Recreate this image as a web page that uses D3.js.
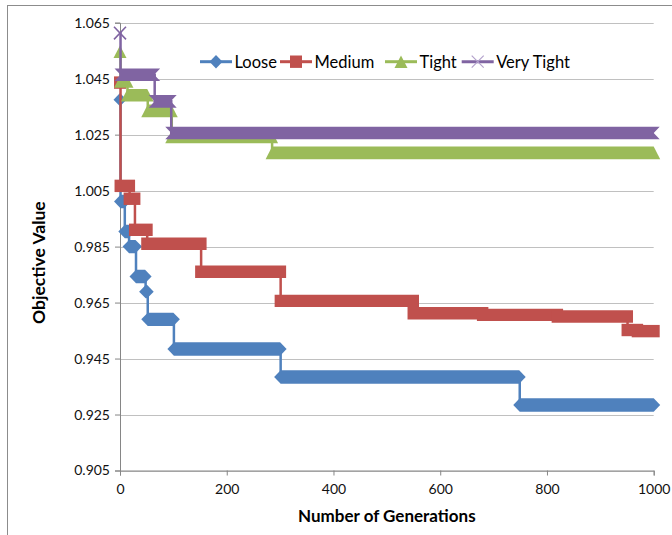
<!DOCTYPE html>
<html>
<head>
<meta charset="utf-8">
<script src="https://cdn.jsdelivr.net/npm/d3@7.9.0/dist/d3.min.js"></script>
<style>
  body { margin: 0; background: #fff; }
  svg { display: block; font-family: Lato, "Open Sans", sans-serif; }
</style>
</head>
<body>
<svg width="672" height="535"></svg>
<script>
// best objective value so far, listed only where it changes
const seriesNames = ["Loose", "Medium", "Tight", "Very Tight"];
const seriesColors = ["#4F81BD", "#C0504D", "#9BBB59", "#8064A2"];
const seriesShapes = ["diamond", "square", "triangle", "x"];

const looseGen = [0, 1, 9, 17, 30, 48, 52, 101, 301, 749];
const looseVal = [1.0375, 1.0011, 0.9904, 0.9850, 0.9743, 0.9689, 0.9590, 0.9484, 0.9384, 0.9284];

const mediumGen = [0, 1, 18, 28, 51, 152, 301, 550, 680, 820, 951, 970];
const mediumVal = [1.0436, 1.0067, 1.0021, 0.9910, 0.9860, 0.9760, 0.9656, 0.9612, 0.9606, 0.9600, 0.9552, 0.9548];

const tightGen = [0, 1, 14, 52, 97, 285];
const tightVal = [1.0546, 1.0440, 1.0391, 1.0335, 1.0242, 1.0185];

const veryTightGen = [0, 1, 65, 96];
const veryTightVal = [1.0613, 1.0464, 1.0369, 1.0256];

const lastGen = 1000;
const xTicks = [0, 200, 400, 600, 800, 1000];
const yTicks = [0.905, 0.925, 0.945, 0.965, 0.985, 1.005, 1.025, 1.045, 1.065];

const allGen = [looseGen, mediumGen, tightGen, veryTightGen];
const allVal = [looseVal, mediumVal, tightVal, veryTightVal];

const svg = d3.select("svg");
const plot = {left: 120, right: 653.7, top: 22.7, bottom: 470.5};

const x = d3.scaleLinear().domain([0, 1000]).range([plot.left, plot.right]);
const y = d3.scaleLinear().domain([0.905, 1.065]).range([plot.bottom, plot.top]);

// chart border
svg.append("rect")
  .attr("x", 7.5).attr("y", 5.5)
  .attr("width", 700).attr("height", 560)
  .attr("fill", "none").attr("stroke", "#8c8c8c");

// gridlines
svg.append("g")
  .selectAll("line")
  .data(yTicks)
  .join("line")
  .attr("x1", plot.left).attr("x2", plot.right)
  .attr("y1", d => Math.round(y(d)) + 0.5).attr("y2", d => Math.round(y(d)) + 0.5)
  .attr("stroke", "#c0c0c0");

const yAxis = svg.append("g")
  .attr("transform", `translate(${plot.left},0)`)
  .call(d3.axisLeft(y).tickValues(yTicks).tickFormat(d3.format(".3f")).tickSize(5).tickPadding(5));

const xAxis = svg.append("g")
  .attr("transform", `translate(0,${plot.bottom})`)
  .call(d3.axisBottom(x).tickValues(xTicks).tickFormat(d3.format("d")).tickSize(5).tickPadding(9));

[xAxis, yAxis].forEach(a => {
  a.select(".domain").attr("stroke", "#868686");
  a.selectAll(".tick line").attr("stroke", "#868686");
  a.selectAll("text").attr("font-family", "Lato, sans-serif").attr("font-size", 14).attr("fill", "#111");
});

// union of markers drawn at every generation of a flat run
function bandPath(shape, xa, xb, yy) {
  if (shape == "diamond") {
    const a = 6.5, b = 6.7;
    return `M${xa - a},${yy}L${xa},${yy - b}L${xb},${yy - b}L${xb + a},${yy}L${xb},${yy + b}L${xa},${yy + b}Z`;
  }
  if (shape == "square") {
    const a = 6, b = 6.2;
    return `M${xa - a},${yy - b}H${xb + a}V${yy + b}H${xa - a}Z`;
  }
  if (shape == "triangle") {
    const a = 6.5, b = 6.3;
    return `M${xa},${yy - b}H${xb}L${xb + a},${yy + b}H${xa - a}Z`;
  }
  const a = 6, b = 6.3;
  return `M${xa - a},${yy - b}H${xb + a}L${xb},${yy}L${xb + a},${yy + b}H${xa - a}L${xa},${yy}Z`;
}

const line = d3.line().x(d => x(d[0])).y(d => y(d[1])).curve(d3.curveStepAfter);

allGen.forEach((gens, s) => {
  const vals = allVal[s];
  const color = seriesColors[s];
  const shape = seriesShapes[s];
  const pts = gens.map((g, i) => [g, vals[i]]);
  pts.push([lastGen, vals[vals.length - 1]]);

  const g = svg.append("g");
  g.append("path")
    .attr("d", line(pts))
    .attr("fill", "none")
    .attr("stroke", color)
    .attr("stroke-width", 2.5);

  const segs = gens.map((g0, i) => ({
    g0: g0,
    g1: i < gens.length - 1 ? gens[i + 1] - 1 : lastGen,
    v: vals[i]
  }));

  segs.forEach(d => {
    const xa = x(d.g0), xb = x(d.g1), yy = y(d.v);
    if (shape == "x" && xb - xa < 12) {
      g.append("path")
        .attr("d", `M${xa - 6},${yy - 6.3}L${xb + 6},${yy + 6.3}M${xa - 6},${yy + 6.3}L${xb + 6},${yy - 6.3}`)
        .attr("stroke", color).attr("stroke-width", 1.6).attr("fill", "none");
    } else {
      g.append("path")
        .attr("d", bandPath(shape, xa, xb, yy))
        .attr("fill", color);
    }
  });
});

// legend
const legendX = [200, 280, 385, 461.7];
const legendY = 61.7;
seriesNames.forEach((name, s) => {
  const lx = legendX[s];
  const color = seriesColors[s];
  const lg = svg.append("g");
  lg.append("line")
    .attr("x1", lx).attr("x2", lx + 32)
    .attr("y1", legendY).attr("y2", legendY)
    .attr("stroke", color).attr("stroke-width", 3);
  const cx = lx + 16;
  if (seriesShapes[s] == "x") {
    lg.append("path")
      .attr("d", `M${cx - 6},${legendY - 6}L${cx + 6},${legendY + 6}M${cx - 6},${legendY + 6}L${cx + 6},${legendY - 6}`)
      .attr("stroke", "#b3a2cc").attr("stroke-width", 1.2);
  } else {
    lg.append("path")
      .attr("d", bandPath(seriesShapes[s], cx, cx, legendY))
      .attr("fill", color);
  }
  lg.append("text")
    .attr("x", lx + 34.5).attr("y", legendY)
    .attr("dy", "0.36em")
    .attr("font-size", 16.5)
    .attr("fill", "#000")
    .text(name);
});

// axis titles
svg.append("text")
  .attr("x", (plot.left + plot.right) / 2).attr("y", 522)
  .attr("text-anchor", "middle")
  .attr("font-weight", "bold").attr("font-size", 17)
  .text("Number of Generations");

svg.append("text")
  .attr("transform", `translate(44.5,${(plot.top + plot.bottom) / 2 + 16}) rotate(-90)`)
  .attr("text-anchor", "middle")
  .attr("font-weight", "bold").attr("font-size", 17.5)
  .text("Objective Value");
</script>
</body>
</html>
